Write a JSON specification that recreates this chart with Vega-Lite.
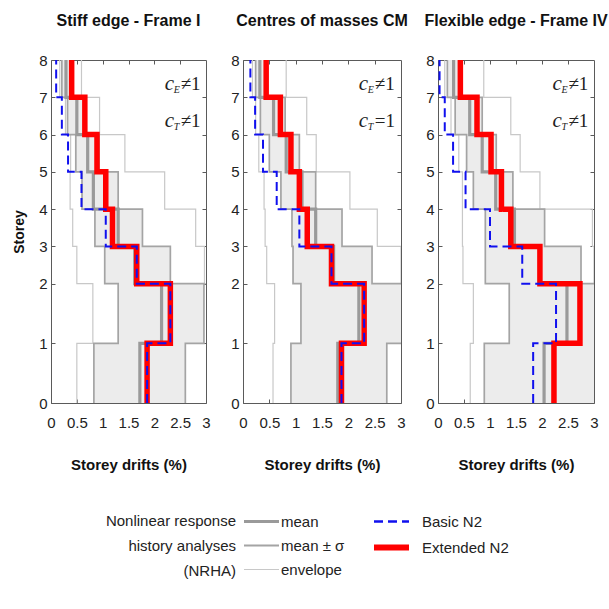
{
  "$schema": "https://vega.github.io/schema/vega-lite/v6.json",
  "background": "white",
  "padding": {"left": 12, "top": 12, "right": 5, "bottom": 5},
  "spacing": 37,
  "bounds": "flush",
  "datasets": {
    "d": [
      {"p":"I","lv":0,"h":0,"el":0.50,"sl":0.83,"m":1.72,"sh":2.60,"eh":3.40,"b":1.86,"e":1.86},
      {"p":"I","lv":1,"h":4.8,"el":0.81,"sl":1.30,"m":2.14,"sh":2.96,"eh":3.40,"b":2.31,"e":2.31},
      {"p":"I","lv":2,"h":9.6,"el":0.50,"sl":1.04,"m":1.62,"sh":2.31,"eh":2.97,"b":1.66,"e":1.66},
      {"p":"I","lv":3,"h":12.6,"el":0.42,"sl":0.85,"m":1.30,"sh":1.77,"eh":2.80,"b":1.06,"e":1.19},
      {"p":"I","lv":4,"h":15.6,"el":0.37,"sl":0.60,"m":0.82,"sh":1.30,"eh":2.20,"b":0.59,"e":1.06},
      {"p":"I","lv":5,"h":18.6,"el":0.38,"sl":0.48,"m":0.71,"sh":0.93,"eh":1.43,"b":0.33,"e":0.89},
      {"p":"I","lv":6,"h":21.6,"el":0.28,"sl":0.32,"m":0.50,"sh":0.68,"eh":0.94,"b":0.21,"e":0.655},
      {"p":"I","lv":7,"h":24.6,"el":0.17,"sl":0.21,"m":0.29,"sh":0.37,"eh":0.59,"b":0.10,"e":0.40},
      {"p":"I","lv":8,"h":27.6,"el":0.17,"sl":0.21,"m":0.29,"sh":0.37,"eh":0.59,"b":0.10,"e":0.40},
      {"p":"CM","lv":0,"h":0,"el":0.57,"sl":0.91,"m":1.80,"sh":2.73,"eh":3.40,"b":1.87,"e":1.87},
      {"p":"CM","lv":1,"h":4.8,"el":0.60,"sl":1.10,"m":2.20,"sh":3.10,"eh":3.40,"b":2.30,"e":2.30},
      {"p":"CM","lv":2,"h":9.6,"el":0.45,"sl":0.95,"m":1.72,"sh":2.45,"eh":3.00,"b":1.68,"e":1.68},
      {"p":"CM","lv":3,"h":12.6,"el":0.42,"sl":0.93,"m":1.38,"sh":1.88,"eh":2.55,"b":1.07,"e":1.22},
      {"p":"CM","lv":4,"h":15.6,"el":0.40,"sl":0.72,"m":1.12,"sh":1.38,"eh":2.03,"b":0.64,"e":1.07},
      {"p":"CM","lv":5,"h":18.6,"el":0.30,"sl":0.50,"m":0.82,"sh":1.07,"eh":1.39,"b":0.38,"e":0.91},
      {"p":"CM","lv":6,"h":21.6,"el":0.24,"sl":0.33,"m":0.58,"sh":0.80,"eh":1.21,"b":0.23,"e":0.71},
      {"p":"CM","lv":7,"h":24.6,"el":0.18,"sl":0.24,"m":0.32,"sh":0.45,"eh":0.82,"b":0.14,"e":0.44},
      {"p":"CM","lv":8,"h":27.6,"el":0.18,"sl":0.24,"m":0.32,"sh":0.45,"eh":0.82,"b":0.14,"e":0.44},
      {"p":"IV","lv":0,"h":0,"el":0.62,"sl":0.89,"m":2.04,"sh":3.20,"eh":3.50,"b":1.83,"e":2.23},
      {"p":"IV","lv":1,"h":4.8,"el":0.68,"sl":1.37,"m":2.48,"sh":3.20,"eh":3.50,"b":2.27,"e":2.73},
      {"p":"IV","lv":2,"h":9.6,"el":0.48,"sl":0.91,"m":1.95,"sh":2.75,"eh":3.00,"b":1.62,"e":1.96},
      {"p":"IV","lv":3,"h":12.6,"el":0.47,"sl":0.91,"m":1.47,"sh":2.05,"eh":2.97,"b":1.00,"e":1.40},
      {"p":"IV","lv":4,"h":15.6,"el":0.47,"sl":0.68,"m":1.11,"sh":1.44,"eh":1.96,"b":0.53,"e":1.22},
      {"p":"IV","lv":5,"h":18.6,"el":0.40,"sl":0.55,"m":0.85,"sh":1.12,"eh":1.58,"b":0.29,"e":1.02},
      {"p":"IV","lv":6,"h":21.6,"el":0.25,"sl":0.33,"m":0.61,"sh":0.85,"eh":1.40,"b":0.13,"e":0.75},
      {"p":"IV","lv":7,"h":24.6,"el":0.13,"sl":0.18,"m":0.30,"sh":0.40,"eh":0.88,"b":0.03,"e":0.43},
      {"p":"IV","lv":8,"h":27.6,"el":0.13,"sl":0.18,"m":0.30,"sh":0.40,"eh":0.88,"b":0.03,"e":0.43}
    ],
    "notes": [
      {"p":"I","ce":"≠1","ct":"≠1"},
      {"p":"CM","ce":"≠1","ct":"=1"},
      {"p":"IV","ce":"≠1","ct":"≠1"}
    ]
  },
  "config": {
    "view": {"stroke": "#5a5a5a", "strokeWidth": 1},
    "axis": {"grid": false, "domain": false, "ticks": true, "tickSize": -4, "tickColor": "#5a5a5a", "labelFont": "Liberation Sans", "labelFontSize": 15, "labelColor": "#222", "labelPadding": 8, "labelFlush": false, "labelOverlap": false, "titleFont": "Liberation Sans", "titleFontWeight": "bold", "titleFontSize": 15, "titleColor": "#111"},
    "axisX": {"titlePadding": 27, "labelPadding": 16},
    "axisY": {"titlePadding": 12},
    "title": {"font": "Liberation Sans", "fontSize": 16, "fontWeight": "bold", "offset": 24, "color": "#111"}
  },
  "resolve": {
    "scale": {"x": "independent", "y": "independent", "color": "shared", "stroke": "shared", "strokeDash": "shared"},
    "legend": {"color": "shared", "stroke": "shared", "strokeDash": "shared"}
  },
  "hconcat": [
    {
      "width": 155, "height": 343,
      "title": "Stiff edge - Frame I",
      "layer": [
        {
          "data": {"name": "d"},
          "transform": [{"filter": {"field": "p", "equal": "I"}}],
          "encoding": {
            "y": {"field": "h", "type": "quantitative", "title": "Storey", "scale": {"domain": [0, 27.6], "nice": false}, "axis": {"orient": "left", "title": "Storey", "titleFontSize": 14, "labelOverlap": false, "values": [0,4.8,9.6,12.6,15.6,18.6,21.6,24.6,27.6], "labelExpr": "indexof([0,4.8,9.6,12.6,15.6,18.6,21.6,24.6,27.6], datum.value)"}}
          },
          "layer": [
            {"mark": {"type": "area", "orient": "horizontal", "interpolate": "step-after", "color": "#ececec", "clip": true},
             "encoding": {"x": {"field": "sl", "type": "quantitative", "title": "Storey drifts (%)", "scale": {"domain": [0, 3], "nice": false}, "axis": {"orient": "bottom", "title": "Storey drifts (%)", "labelOverlap": false, "values": [0,0.5,1,1.5,2,2.5,3], "format": "~g"}}, "x2": {"field": "sh"}}},
            {"mark": {"type": "line", "interpolate": "step-before", "clip": true, "strokeWidth": 1.2},
             "encoding": {"x": {"field": "el", "type": "quantitative", "title": "Storey drifts (%)", "scale": {"domain": [0, 3], "nice": false}, "axis": {"orient": "bottom", "title": "Storey drifts (%)", "labelOverlap": false, "values": [0,0.5,1,1.5,2,2.5,3], "format": "~g"}}, "order": {"field": "lv", "type": "quantitative"},
               "stroke": {"datum": "envelope", "type": "nominal", "scale": {"domain": ["mean", "mean ± σ", "envelope"], "range": ["#9a9a9a", "#a4a4a4", "#c8c8c8"]},
                 "legend": {"orient": "none", "legendX": 55, "legendY": 454, "title": ["Nonlinear response", "history analyses", "(NRHA)"], "titleOrient": "left", "titleAlign": "right", "titleAnchor": "start", "titleBaseline": "top", "titleLineHeight": 25, "titleFont": "Liberation Sans", "titleFontSize": 15, "titleFontWeight": "normal", "titleColor": "#222", "titlePadding": -113, "symbolType": "stroke", "symbolSize": 1225, "labelFont": "Liberation Sans", "labelFontSize": 15, "labelColor": "#222", "labelOffset": 12, "rowPadding": 8,
                   "encode": {"title": {"update": {"angle": {"value": 0}}}, "symbols": {"update": {"strokeWidth": {"signal": "datum.value === 'mean' ? 3 : datum.value === 'envelope' ? 1.2 : 1.8"}}}}}}}},
            {"mark": {"type": "line", "interpolate": "step-before", "clip": true, "strokeWidth": 1.2},
             "encoding": {"x": {"field": "eh", "type": "quantitative", "title": "Storey drifts (%)", "scale": {"domain": [0, 3], "nice": false}, "axis": {"orient": "bottom", "title": "Storey drifts (%)", "labelOverlap": false, "values": [0,0.5,1,1.5,2,2.5,3], "format": "~g"}}, "order": {"field": "lv", "type": "quantitative"}, "stroke": {"datum": "envelope", "type": "nominal"}}},
            {"mark": {"type": "line", "interpolate": "step-before", "clip": true, "strokeWidth": 1.7},
             "encoding": {"x": {"field": "sl", "type": "quantitative", "title": "Storey drifts (%)", "scale": {"domain": [0, 3], "nice": false}, "axis": {"orient": "bottom", "title": "Storey drifts (%)", "labelOverlap": false, "values": [0,0.5,1,1.5,2,2.5,3], "format": "~g"}}, "order": {"field": "lv", "type": "quantitative"}, "stroke": {"datum": "mean ± σ", "type": "nominal"}}},
            {"mark": {"type": "line", "interpolate": "step-before", "clip": true, "strokeWidth": 1.7},
             "encoding": {"x": {"field": "sh", "type": "quantitative", "title": "Storey drifts (%)", "scale": {"domain": [0, 3], "nice": false}, "axis": {"orient": "bottom", "title": "Storey drifts (%)", "labelOverlap": false, "values": [0,0.5,1,1.5,2,2.5,3], "format": "~g"}}, "order": {"field": "lv", "type": "quantitative"}, "stroke": {"datum": "mean ± σ", "type": "nominal"}}},
            {"mark": {"type": "line", "interpolate": "step-before", "clip": true, "strokeWidth": 3.2},
             "encoding": {"x": {"field": "m", "type": "quantitative", "title": "Storey drifts (%)", "scale": {"domain": [0, 3], "nice": false}, "axis": {"orient": "bottom", "title": "Storey drifts (%)", "labelOverlap": false, "values": [0,0.5,1,1.5,2,2.5,3], "format": "~g"}}, "order": {"field": "lv", "type": "quantitative"}, "stroke": {"datum": "mean", "type": "nominal"}}},
            {"mark": {"type": "line", "interpolate": "step-before", "clip": true, "strokeWidth": 5.5},
             "encoding": {"x": {"field": "e", "type": "quantitative", "title": "Storey drifts (%)", "scale": {"domain": [0, 3], "nice": false}, "axis": {"orient": "bottom", "title": "Storey drifts (%)", "labelOverlap": false, "values": [0,0.5,1,1.5,2,2.5,3], "format": "~g"}}, "order": {"field": "lv", "type": "quantitative"},
               "color": {"datum": "Extended N2", "type": "nominal", "scale": {"domain": ["Basic N2", "Extended N2"], "range": ["#1010ee", "#ff0000"]},
                 "legend": {"orient": "none", "legendX": 333, "legendY": 454, "title": null, "symbolType": "stroke", "symbolSize": 1225, "labelFont": "Liberation Sans", "labelFontSize": 15, "labelColor": "#222", "labelOffset": 23, "rowPadding": 5, "encode": {"symbols": {"update": {"strokeWidth": {"signal": "datum.value === 'Extended N2' ? 6 : 2.5"}}}}}},
               "strokeDash": {"datum": "Extended N2", "type": "nominal", "scale": {"domain": ["Basic N2", "Extended N2"], "range": [[9, 5], [1, 0]]}}}},
            {"mark": {"type": "line", "interpolate": "step-before", "clip": true, "strokeWidth": 2},
             "encoding": {"x": {"field": "b", "type": "quantitative", "title": "Storey drifts (%)", "scale": {"domain": [0, 3], "nice": false}, "axis": {"orient": "bottom", "title": "Storey drifts (%)", "labelOverlap": false, "values": [0,0.5,1,1.5,2,2.5,3], "format": "~g"}}, "order": {"field": "lv", "type": "quantitative"},
               "color": {"datum": "Basic N2", "type": "nominal"}, "strokeDash": {"datum": "Basic N2", "type": "nominal"}}}
          ]
        },
        {
          "data": {"name": "notes"},
          "transform": [{"filter": {"field": "p", "equal": "I"}}],
          "encoding": {"x": {"datum": 2.2, "type": "quantitative", "axis": {"orient": "top", "labels": false, "title": null, "values": [0.5,1,1.5,2,2.5]}}},
          "layer": [
            {"mark": {"type": "text", "text": "c", "align": "left", "baseline": "middle", "font": "Liberation Serif", "fontStyle": "italic", "fontSize": 21, "color": "#222"}, "encoding": {"y": {"datum": 25.65, "type": "quantitative", "axis": {"orient": "right", "labels": false, "title": null, "values": [4.8,9.6,12.6,15.6,18.6,21.6,24.6]}}}},
            {"mark": {"type": "text", "text": "E", "align": "left", "baseline": "middle", "font": "Liberation Serif", "fontStyle": "italic", "fontSize": 10, "dx": 9, "dy": 6, "color": "#222"}, "encoding": {"y": {"datum": 25.65, "type": "quantitative", "axis": {"orient": "right", "labels": false, "title": null, "values": [4.8,9.6,12.6,15.6,18.6,21.6,24.6]}}}},
            {"mark": {"type": "text", "align": "left", "baseline": "middle", "font": "Liberation Serif", "fontSize": 19, "dx": 16, "color": "#222"}, "encoding": {"y": {"datum": 25.65, "type": "quantitative", "axis": {"orient": "right", "labels": false, "title": null, "values": [4.8,9.6,12.6,15.6,18.6,21.6,24.6]}}, "text": {"field": "ce"}}},
            {"mark": {"type": "text", "text": "c", "align": "left", "baseline": "middle", "font": "Liberation Serif", "fontStyle": "italic", "fontSize": 21, "color": "#222"}, "encoding": {"y": {"datum": 22.67, "type": "quantitative", "axis": {"orient": "right", "labels": false, "title": null, "values": [4.8,9.6,12.6,15.6,18.6,21.6,24.6]}}}},
            {"mark": {"type": "text", "text": "T", "align": "left", "baseline": "middle", "font": "Liberation Serif", "fontStyle": "italic", "fontSize": 10, "dx": 9, "dy": 6, "color": "#222"}, "encoding": {"y": {"datum": 22.67, "type": "quantitative", "axis": {"orient": "right", "labels": false, "title": null, "values": [4.8,9.6,12.6,15.6,18.6,21.6,24.6]}}}},
            {"mark": {"type": "text", "align": "left", "baseline": "middle", "font": "Liberation Serif", "fontSize": 19, "dx": 16, "color": "#222"}, "encoding": {"y": {"datum": 22.67, "type": "quantitative", "axis": {"orient": "right", "labels": false, "title": null, "values": [4.8,9.6,12.6,15.6,18.6,21.6,24.6]}}, "text": {"field": "ct"}}}
          ]
        }
      ]
    },
    {
      "width": 158, "height": 343,
      "title": "Centres of masses CM",
      "layer": [
        {
          "data": {"name": "d"},
          "transform": [{"filter": {"field": "p", "equal": "CM"}}],
          "encoding": {
            "y": {"field": "h", "type": "quantitative", "title": null, "scale": {"domain": [0, 27.6], "nice": false}, "axis": {"orient": "left", "title": null, "labelOverlap": false, "values": [0,4.8,9.6,12.6,15.6,18.6,21.6,24.6,27.6], "labelExpr": "indexof([0,4.8,9.6,12.6,15.6,18.6,21.6,24.6,27.6], datum.value)"}}
          },
          "layer": [
            {"mark": {"type": "area", "orient": "horizontal", "interpolate": "step-after", "color": "#ececec", "clip": true},
             "encoding": {"x": {"field": "sl", "type": "quantitative", "title": "Storey drifts (%)", "scale": {"domain": [0, 3], "nice": false}, "axis": {"orient": "bottom", "title": "Storey drifts (%)", "labelOverlap": false, "values": [0,0.5,1,1.5,2,2.5,3], "format": "~g"}}, "x2": {"field": "sh"}}},
            {"mark": {"type": "line", "interpolate": "step-before", "clip": true, "strokeWidth": 1.2},
             "encoding": {"x": {"field": "el", "type": "quantitative", "title": "Storey drifts (%)", "scale": {"domain": [0, 3], "nice": false}, "axis": {"orient": "bottom", "title": "Storey drifts (%)", "labelOverlap": false, "values": [0,0.5,1,1.5,2,2.5,3], "format": "~g"}}, "order": {"field": "lv", "type": "quantitative"}, "stroke": {"datum": "envelope", "type": "nominal"}}},
            {"mark": {"type": "line", "interpolate": "step-before", "clip": true, "strokeWidth": 1.2},
             "encoding": {"x": {"field": "eh", "type": "quantitative", "title": "Storey drifts (%)", "scale": {"domain": [0, 3], "nice": false}, "axis": {"orient": "bottom", "title": "Storey drifts (%)", "labelOverlap": false, "values": [0,0.5,1,1.5,2,2.5,3], "format": "~g"}}, "order": {"field": "lv", "type": "quantitative"}, "stroke": {"datum": "envelope", "type": "nominal"}}},
            {"mark": {"type": "line", "interpolate": "step-before", "clip": true, "strokeWidth": 1.7},
             "encoding": {"x": {"field": "sl", "type": "quantitative", "title": "Storey drifts (%)", "scale": {"domain": [0, 3], "nice": false}, "axis": {"orient": "bottom", "title": "Storey drifts (%)", "labelOverlap": false, "values": [0,0.5,1,1.5,2,2.5,3], "format": "~g"}}, "order": {"field": "lv", "type": "quantitative"}, "stroke": {"datum": "mean ± σ", "type": "nominal"}}},
            {"mark": {"type": "line", "interpolate": "step-before", "clip": true, "strokeWidth": 1.7},
             "encoding": {"x": {"field": "sh", "type": "quantitative", "title": "Storey drifts (%)", "scale": {"domain": [0, 3], "nice": false}, "axis": {"orient": "bottom", "title": "Storey drifts (%)", "labelOverlap": false, "values": [0,0.5,1,1.5,2,2.5,3], "format": "~g"}}, "order": {"field": "lv", "type": "quantitative"}, "stroke": {"datum": "mean ± σ", "type": "nominal"}}},
            {"mark": {"type": "line", "interpolate": "step-before", "clip": true, "strokeWidth": 3.2},
             "encoding": {"x": {"field": "m", "type": "quantitative", "title": "Storey drifts (%)", "scale": {"domain": [0, 3], "nice": false}, "axis": {"orient": "bottom", "title": "Storey drifts (%)", "labelOverlap": false, "values": [0,0.5,1,1.5,2,2.5,3], "format": "~g"}}, "order": {"field": "lv", "type": "quantitative"}, "stroke": {"datum": "mean", "type": "nominal"}}},
            {"mark": {"type": "line", "interpolate": "step-before", "clip": true, "strokeWidth": 5.5},
             "encoding": {"x": {"field": "e", "type": "quantitative", "title": "Storey drifts (%)", "scale": {"domain": [0, 3], "nice": false}, "axis": {"orient": "bottom", "title": "Storey drifts (%)", "labelOverlap": false, "values": [0,0.5,1,1.5,2,2.5,3], "format": "~g"}}, "order": {"field": "lv", "type": "quantitative"}, "color": {"datum": "Extended N2", "type": "nominal"}, "strokeDash": {"datum": "Extended N2", "type": "nominal"}}},
            {"mark": {"type": "line", "interpolate": "step-before", "clip": true, "strokeWidth": 2},
             "encoding": {"x": {"field": "b", "type": "quantitative", "title": "Storey drifts (%)", "scale": {"domain": [0, 3], "nice": false}, "axis": {"orient": "bottom", "title": "Storey drifts (%)", "labelOverlap": false, "values": [0,0.5,1,1.5,2,2.5,3], "format": "~g"}}, "order": {"field": "lv", "type": "quantitative"}, "color": {"datum": "Basic N2", "type": "nominal"}, "strokeDash": {"datum": "Basic N2", "type": "nominal"}}}
          ]
        },
        {
          "data": {"name": "notes"},
          "transform": [{"filter": {"field": "p", "equal": "CM"}}],
          "encoding": {"x": {"datum": 2.2, "type": "quantitative", "axis": {"orient": "top", "labels": false, "title": null, "values": [0.5,1,1.5,2,2.5]}}},
          "layer": [
            {"mark": {"type": "text", "text": "c", "align": "left", "baseline": "middle", "font": "Liberation Serif", "fontStyle": "italic", "fontSize": 21, "color": "#222"}, "encoding": {"y": {"datum": 25.65, "type": "quantitative", "axis": {"orient": "right", "labels": false, "title": null, "values": [4.8,9.6,12.6,15.6,18.6,21.6,24.6]}}}},
            {"mark": {"type": "text", "text": "E", "align": "left", "baseline": "middle", "font": "Liberation Serif", "fontStyle": "italic", "fontSize": 10, "dx": 9, "dy": 6, "color": "#222"}, "encoding": {"y": {"datum": 25.65, "type": "quantitative", "axis": {"orient": "right", "labels": false, "title": null, "values": [4.8,9.6,12.6,15.6,18.6,21.6,24.6]}}}},
            {"mark": {"type": "text", "align": "left", "baseline": "middle", "font": "Liberation Serif", "fontSize": 19, "dx": 16, "color": "#222"}, "encoding": {"y": {"datum": 25.65, "type": "quantitative", "axis": {"orient": "right", "labels": false, "title": null, "values": [4.8,9.6,12.6,15.6,18.6,21.6,24.6]}}, "text": {"field": "ce"}}},
            {"mark": {"type": "text", "text": "c", "align": "left", "baseline": "middle", "font": "Liberation Serif", "fontStyle": "italic", "fontSize": 21, "color": "#222"}, "encoding": {"y": {"datum": 22.67, "type": "quantitative", "axis": {"orient": "right", "labels": false, "title": null, "values": [4.8,9.6,12.6,15.6,18.6,21.6,24.6]}}}},
            {"mark": {"type": "text", "text": "T", "align": "left", "baseline": "middle", "font": "Liberation Serif", "fontStyle": "italic", "fontSize": 10, "dx": 9, "dy": 6, "color": "#222"}, "encoding": {"y": {"datum": 22.67, "type": "quantitative", "axis": {"orient": "right", "labels": false, "title": null, "values": [4.8,9.6,12.6,15.6,18.6,21.6,24.6]}}}},
            {"mark": {"type": "text", "align": "left", "baseline": "middle", "font": "Liberation Serif", "fontSize": 19, "dx": 16, "color": "#222"}, "encoding": {"y": {"datum": 22.67, "type": "quantitative", "axis": {"orient": "right", "labels": false, "title": null, "values": [4.8,9.6,12.6,15.6,18.6,21.6,24.6]}}, "text": {"field": "ct"}}}
          ]
        }
      ]
    },
    {
      "width": 156, "height": 343,
      "title": "Flexible edge - Frame IV",
      "layer": [
        {
          "data": {"name": "d"},
          "transform": [{"filter": {"field": "p", "equal": "IV"}}],
          "encoding": {
            "y": {"field": "h", "type": "quantitative", "title": null, "scale": {"domain": [0, 27.6], "nice": false}, "axis": {"orient": "left", "title": null, "labelOverlap": false, "values": [0,4.8,9.6,12.6,15.6,18.6,21.6,24.6,27.6], "labelExpr": "indexof([0,4.8,9.6,12.6,15.6,18.6,21.6,24.6,27.6], datum.value)"}}
          },
          "layer": [
            {"mark": {"type": "area", "orient": "horizontal", "interpolate": "step-after", "color": "#ececec", "clip": true},
             "encoding": {"x": {"field": "sl", "type": "quantitative", "title": "Storey drifts (%)", "scale": {"domain": [0, 3], "nice": false}, "axis": {"orient": "bottom", "title": "Storey drifts (%)", "labelOverlap": false, "values": [0,0.5,1,1.5,2,2.5,3], "format": "~g"}}, "x2": {"field": "sh"}}},
            {"mark": {"type": "line", "interpolate": "step-before", "clip": true, "strokeWidth": 1.2},
             "encoding": {"x": {"field": "el", "type": "quantitative", "title": "Storey drifts (%)", "scale": {"domain": [0, 3], "nice": false}, "axis": {"orient": "bottom", "title": "Storey drifts (%)", "labelOverlap": false, "values": [0,0.5,1,1.5,2,2.5,3], "format": "~g"}}, "order": {"field": "lv", "type": "quantitative"}, "stroke": {"datum": "envelope", "type": "nominal"}}},
            {"mark": {"type": "line", "interpolate": "step-before", "clip": true, "strokeWidth": 1.2},
             "encoding": {"x": {"field": "eh", "type": "quantitative", "title": "Storey drifts (%)", "scale": {"domain": [0, 3], "nice": false}, "axis": {"orient": "bottom", "title": "Storey drifts (%)", "labelOverlap": false, "values": [0,0.5,1,1.5,2,2.5,3], "format": "~g"}}, "order": {"field": "lv", "type": "quantitative"}, "stroke": {"datum": "envelope", "type": "nominal"}}},
            {"mark": {"type": "line", "interpolate": "step-before", "clip": true, "strokeWidth": 1.7},
             "encoding": {"x": {"field": "sl", "type": "quantitative", "title": "Storey drifts (%)", "scale": {"domain": [0, 3], "nice": false}, "axis": {"orient": "bottom", "title": "Storey drifts (%)", "labelOverlap": false, "values": [0,0.5,1,1.5,2,2.5,3], "format": "~g"}}, "order": {"field": "lv", "type": "quantitative"}, "stroke": {"datum": "mean ± σ", "type": "nominal"}}},
            {"mark": {"type": "line", "interpolate": "step-before", "clip": true, "strokeWidth": 1.7},
             "encoding": {"x": {"field": "sh", "type": "quantitative", "title": "Storey drifts (%)", "scale": {"domain": [0, 3], "nice": false}, "axis": {"orient": "bottom", "title": "Storey drifts (%)", "labelOverlap": false, "values": [0,0.5,1,1.5,2,2.5,3], "format": "~g"}}, "order": {"field": "lv", "type": "quantitative"}, "stroke": {"datum": "mean ± σ", "type": "nominal"}}},
            {"mark": {"type": "line", "interpolate": "step-before", "clip": true, "strokeWidth": 3.2},
             "encoding": {"x": {"field": "m", "type": "quantitative", "title": "Storey drifts (%)", "scale": {"domain": [0, 3], "nice": false}, "axis": {"orient": "bottom", "title": "Storey drifts (%)", "labelOverlap": false, "values": [0,0.5,1,1.5,2,2.5,3], "format": "~g"}}, "order": {"field": "lv", "type": "quantitative"}, "stroke": {"datum": "mean", "type": "nominal"}}},
            {"mark": {"type": "line", "interpolate": "step-before", "clip": true, "strokeWidth": 5.5},
             "encoding": {"x": {"field": "e", "type": "quantitative", "title": "Storey drifts (%)", "scale": {"domain": [0, 3], "nice": false}, "axis": {"orient": "bottom", "title": "Storey drifts (%)", "labelOverlap": false, "values": [0,0.5,1,1.5,2,2.5,3], "format": "~g"}}, "order": {"field": "lv", "type": "quantitative"}, "color": {"datum": "Extended N2", "type": "nominal"}, "strokeDash": {"datum": "Extended N2", "type": "nominal"}}},
            {"mark": {"type": "line", "interpolate": "step-before", "clip": true, "strokeWidth": 2},
             "encoding": {"x": {"field": "b", "type": "quantitative", "title": "Storey drifts (%)", "scale": {"domain": [0, 3], "nice": false}, "axis": {"orient": "bottom", "title": "Storey drifts (%)", "labelOverlap": false, "values": [0,0.5,1,1.5,2,2.5,3], "format": "~g"}}, "order": {"field": "lv", "type": "quantitative"}, "color": {"datum": "Basic N2", "type": "nominal"}, "strokeDash": {"datum": "Basic N2", "type": "nominal"}}}
          ]
        },
        {
          "data": {"name": "notes"},
          "transform": [{"filter": {"field": "p", "equal": "IV"}}],
          "encoding": {"x": {"datum": 2.2, "type": "quantitative", "axis": {"orient": "top", "labels": false, "title": null, "values": [0.5,1,1.5,2,2.5]}}},
          "layer": [
            {"mark": {"type": "text", "text": "c", "align": "left", "baseline": "middle", "font": "Liberation Serif", "fontStyle": "italic", "fontSize": 21, "color": "#222"}, "encoding": {"y": {"datum": 25.65, "type": "quantitative", "axis": {"orient": "right", "labels": false, "title": null, "values": [4.8,9.6,12.6,15.6,18.6,21.6,24.6]}}}},
            {"mark": {"type": "text", "text": "E", "align": "left", "baseline": "middle", "font": "Liberation Serif", "fontStyle": "italic", "fontSize": 10, "dx": 9, "dy": 6, "color": "#222"}, "encoding": {"y": {"datum": 25.65, "type": "quantitative", "axis": {"orient": "right", "labels": false, "title": null, "values": [4.8,9.6,12.6,15.6,18.6,21.6,24.6]}}}},
            {"mark": {"type": "text", "align": "left", "baseline": "middle", "font": "Liberation Serif", "fontSize": 19, "dx": 16, "color": "#222"}, "encoding": {"y": {"datum": 25.65, "type": "quantitative", "axis": {"orient": "right", "labels": false, "title": null, "values": [4.8,9.6,12.6,15.6,18.6,21.6,24.6]}}, "text": {"field": "ce"}}},
            {"mark": {"type": "text", "text": "c", "align": "left", "baseline": "middle", "font": "Liberation Serif", "fontStyle": "italic", "fontSize": 21, "color": "#222"}, "encoding": {"y": {"datum": 22.67, "type": "quantitative", "axis": {"orient": "right", "labels": false, "title": null, "values": [4.8,9.6,12.6,15.6,18.6,21.6,24.6]}}}},
            {"mark": {"type": "text", "text": "T", "align": "left", "baseline": "middle", "font": "Liberation Serif", "fontStyle": "italic", "fontSize": 10, "dx": 9, "dy": 6, "color": "#222"}, "encoding": {"y": {"datum": 22.67, "type": "quantitative", "axis": {"orient": "right", "labels": false, "title": null, "values": [4.8,9.6,12.6,15.6,18.6,21.6,24.6]}}}},
            {"mark": {"type": "text", "align": "left", "baseline": "middle", "font": "Liberation Serif", "fontSize": 19, "dx": 16, "color": "#222"}, "encoding": {"y": {"datum": 22.67, "type": "quantitative", "axis": {"orient": "right", "labels": false, "title": null, "values": [4.8,9.6,12.6,15.6,18.6,21.6,24.6]}}, "text": {"field": "ct"}}}
          ]
        }
      ]
    }
  ]
}
